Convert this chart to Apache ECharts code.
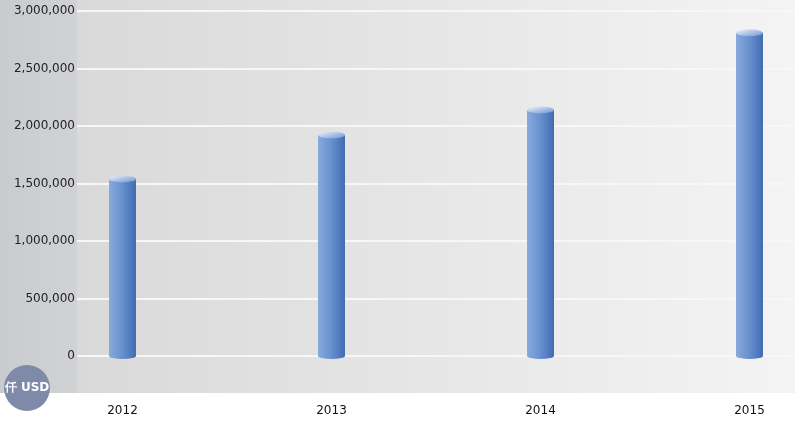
<!DOCTYPE html>
<html><head><meta charset="utf-8">
<script src="https://cdn.jsdelivr.net/npm/echarts@6/dist/echarts.min.js"></script>
<style>html,body{margin:0;padding:0;background:#fff}#c{width:804px;height:429px}</style>
</head><body><div id="c"></div>
<script>
const categories = ['2012', '2013', '2014', '2015'];
const values = [1540000, 1922000, 2140000, 2810000];
const yTicks = [0, 500000, 1000000, 1500000, 2000000, 2500000, 3000000];
const unitLabel = '仟 USD';

const chart = echarts.init(document.getElementById('c'), null, {renderer: 'canvas'});
const bodyGrad = new echarts.graphic.LinearGradient(0, 0, 1, 0, [
  {offset: 0, color: '#88aadd'}, {offset: 0.45, color: '#6b93d0'}, {offset: 1, color: '#3f6cb2'}]);
const capGrad = new echarts.graphic.LinearGradient(0, 0, 1, 1, [
  {offset: 0, color: '#f2f5fb'}, {offset: 0.5, color: '#aec3e6'}, {offset: 1, color: '#6e95cf'}]);
const fmt = v => v.toLocaleString('en-US');
chart.setOption({
  animation: false,
  textStyle: {fontFamily: 'DejaVu Sans'},
  graphic: [
    {type: 'rect', z: -10, shape: {x: 0, y: 0, width: 77, height: 393},
      style: {fill: new echarts.graphic.LinearGradient(0, 0, 1, 0, [{offset: 0, color: '#c9cbce'}, {offset: 1, color: '#d1d2d4'}])}},
    {type: 'rect', z: -10, shape: {x: 77, y: 0, width: 718, height: 393},
      style: {fill: new echarts.graphic.LinearGradient(0, 0, 1, 0, [{offset: 0, color: '#d9d9d9'}, {offset: 1, color: '#f4f4f4'}])}},
    {type: 'circle', z: 100, shape: {cx: 27, cy: 388, r: 23}, style: {fill: '#7f8aa9'}},
    {type: 'text', z: 101, x: 27, y: 388, style: {text: unitLabel, fill: '#ffffff', font: 'bold 12px "DejaVu Sans"', align: 'center', verticalAlign: 'middle'}}
  ],
  grid: [
    {left: 77, right: 9, top: 11, bottom: 73, outerBoundsMode: 'none'},
    {left: 18, width: 836, top: 11, bottom: 73, outerBoundsMode: 'none'}
  ],
  xAxis: [
    {gridIndex: 0, type: 'category', data: categories, show: false},
    {gridIndex: 1, type: 'category', data: categories, axisLine: {show: false}, axisTick: {show: false},
      axisLabel: {margin: 49, color: '#111', fontSize: 12, fontFamily: 'DejaVu Sans'}}
  ],
  yAxis: [
    {gridIndex: 0, type: 'value', min: yTicks[0], max: yTicks[yTicks.length - 1], interval: 500000,
      axisLine: {show: false}, axisTick: {show: false},
      axisLabel: {margin: 2, color: '#222', fontSize: 12, fontFamily: 'DejaVu Sans', formatter: v => fmt(v)},
      splitLine: {lineStyle: {color: '#f7f7f7', width: 2}}},
    {gridIndex: 1, type: 'value', min: yTicks[0], max: yTicks[yTicks.length - 1], interval: 500000, show: false, splitLine: {show: false}}
  ],
  series: [
    {type: 'bar', xAxisIndex: 1, yAxisIndex: 1, data: values, barWidth: 27, z: 3,
      itemStyle: {color: bodyGrad}},
    {type: 'pictorialBar', xAxisIndex: 1, yAxisIndex: 1, data: values.map(() => 0), symbol: 'circle',
      symbolSize: [27, 6], symbolPosition: 'end', symbolOffset: [0, '-50%'], z: 2, itemStyle: {color: bodyGrad}},
    {type: 'pictorialBar', xAxisIndex: 1, yAxisIndex: 1, data: values, symbol: 'circle',
      symbolSize: [27, 7], symbolPosition: 'end', symbolOffset: [0, '-50%'], z: 4, itemStyle: {color: capGrad}}
  ]
});
</script></body></html>
